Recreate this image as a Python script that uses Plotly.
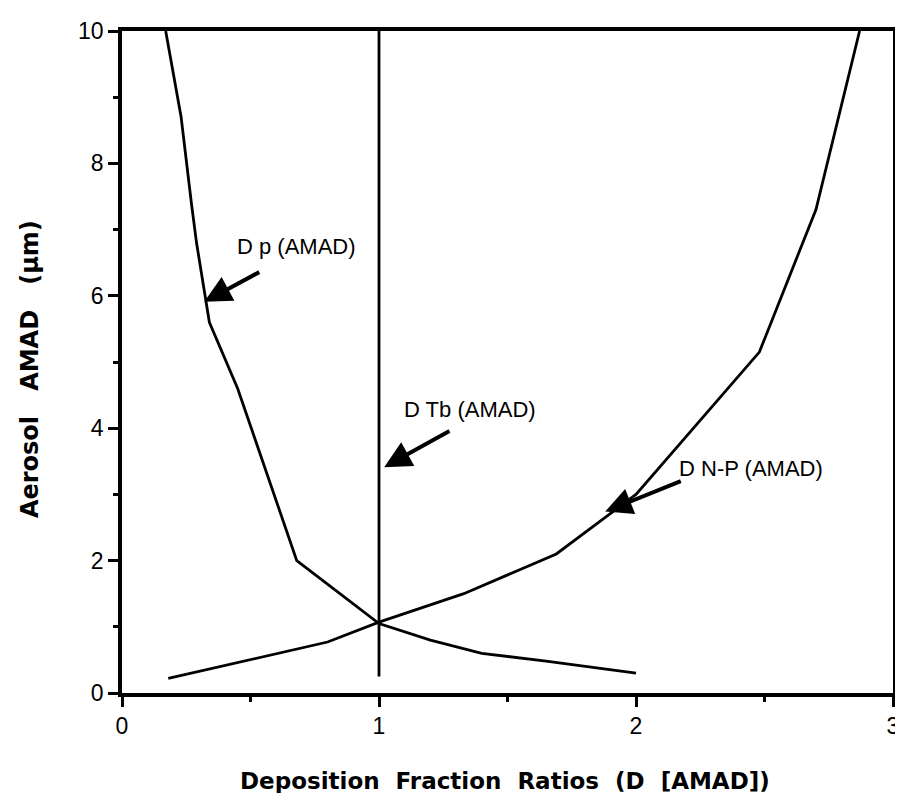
import plotly.graph_objects as go

# Data
dp_x = [0.17, 0.23, 0.27, 0.29, 0.34, 0.45, 0.68, 1.00, 1.20, 1.40, 1.65, 2.00]
dp_y = [10.0, 8.7, 7.4, 6.8, 5.6, 4.6, 2.0, 1.05, 0.80, 0.60, 0.48, 0.30]

dtb_x = [1.0, 1.0]
dtb_y = [0.25, 10.0]

dnp_x = [0.18, 0.50, 0.80, 1.00, 1.33, 1.69, 2.00, 2.48, 2.70, 2.87]
dnp_y = [0.22, 0.50, 0.77, 1.07, 1.50, 2.10, 3.00, 5.15, 7.30, 10.0]

labels = ["D p (AMAD)", "D Tb (AMAD)", "D N-P (AMAD)"]
label_pos = [(0.44, 6.75), (1.09, 4.28), (2.16, 3.39)]
arrow_tail = [(0.54, 6.37), (1.28, 3.97), (2.18, 3.21)]
arrow_head = [(0.32, 5.91), (1.02, 3.41), (1.88, 2.74)]

y_ticks = [0, 2, 4, 6, 8, 10]
x_ticks = [0, 1, 2, 3]

FONT = "Liberation Sans"
TITLE_FONT = "DejaVu Sans"
line_style = dict(color="black", width=2.8)

fig = go.Figure()
for xs, ys, name in [(dp_x, dp_y, labels[0]), (dtb_x, dtb_y, labels[1]), (dnp_x, dnp_y, labels[2])]:
    fig.add_trace(go.Scatter(x=xs, y=ys, mode="lines", line=line_style, name=name,
                             showlegend=False, hoverinfo="skip"))

annotations = []
for txt, (lx, ly) in zip(labels, label_pos):
    annotations.append(dict(x=lx, y=ly, xref="x", yref="y", text=txt, showarrow=False,
                            xanchor="left", yanchor="middle",
                            font=dict(family=FONT, size=22, color="black")))
for (tx, ty), (hx, hy) in zip(arrow_tail, arrow_head):
    annotations.append(dict(x=hx, y=hy, ax=tx, ay=ty, xref="x", yref="y", axref="x", ayref="y",
                            text="", showarrow=True, arrowhead=2, arrowsize=1.35,
                            arrowwidth=4, arrowcolor="black"))

annotations.append(dict(x=0.497, y=-0.133, xref="paper", yref="paper",
                        text="<b>Deposition  Fraction  Ratios  (D  [AMAD])</b>",
                        showarrow=False, xanchor="center", yanchor="middle",
                        font=dict(family=TITLE_FONT, size=23, color="black")))
annotations.append(dict(x=-0.12, y=0.49, xref="paper", yref="paper",
                        text="<b>Aerosol   AMAD   (µm)</b>", textangle=-90,
                        showarrow=False, xanchor="center", yanchor="middle",
                        font=dict(family=TITLE_FONT, size=24, color="black")))

fig.update_layout(
    width=903, height=793,
    margin=dict(l=114, r=18, t=10, b=108),
    paper_bgcolor="white", plot_bgcolor="white",
    annotations=annotations,
    font=dict(family=FONT, size=23, color="black"),
)
fig.update_xaxes(range=[0, 3], tickvals=x_ticks, ticktext=[str(v) for v in x_ticks],
                 showgrid=False, zeroline=False, showline=True, linecolor="black",
                 linewidth=3.5, mirror=True, ticks="outside", ticklen=10, tickwidth=3,
                 tickcolor="black", tickfont=dict(family=FONT, size=23),
                 minor=dict(tickvals=[0.5, 1.5, 2.5], ticks="outside", ticklen=5,
                            tickwidth=3, tickcolor="black"))
fig.update_yaxes(range=[0, 10], tickvals=y_ticks, ticktext=[str(v) for v in y_ticks],
                 showgrid=False, zeroline=False, showline=True, linecolor="black",
                 linewidth=3.5, mirror=True, ticks="outside", ticklen=10, tickwidth=3,
                 tickcolor="black", tickfont=dict(family=FONT, size=23),
                 minor=dict(tickvals=[1, 3, 5, 7, 9], ticks="outside", ticklen=5,
                            tickwidth=3, tickcolor="black"))

fig.write_html("out.html")
